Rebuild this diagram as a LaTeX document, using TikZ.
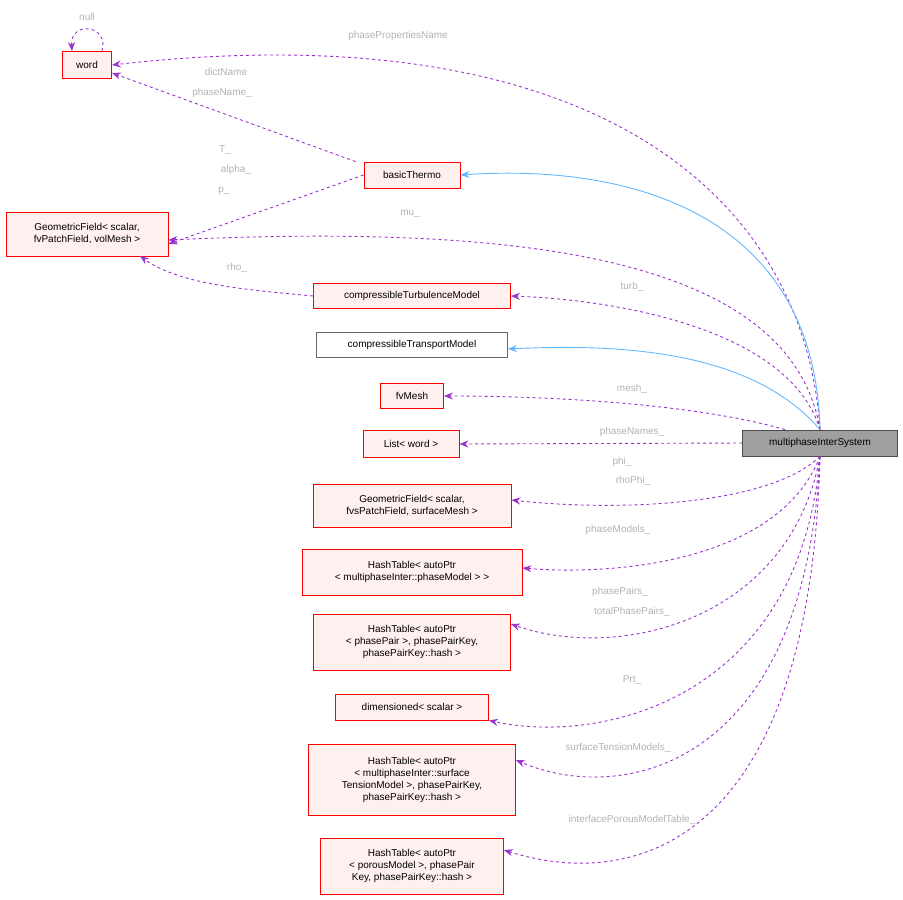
\documentclass[tikz,border=0pt]{standalone}
\usepackage{fontspec}
\setmainfont{Liberation Sans}
\usetikzlibrary{arrows.meta}
\definecolor{pur}{HTML}{9A32CD}
\definecolor{blu}{HTML}{63B8FF}
\begin{document}
\begin{tikzpicture}[x=1pt,y=-1pt,
 box/.style={draw=red,fill=red!6,align=center,font=\fontsize{10}{12}\selectfont,inner sep=2pt,line width=0.8pt},
 pp/.style={draw=pur,dashed,line width=0.9pt,-{Stealth[length=9pt,width=7pt]}},
 bl/.style={draw=blu,line width=0.9pt,-{Stealth[length=9pt,width=7pt]}},
 lb/.style={text=gray!60,font=\fontsize{10}{12}\selectfont}]
\useasboundingbox (0,0) rectangle (903,900);
\node[box,minimum width=49pt,minimum height=27pt] (word) at (87,65) {word};
\node[box,minimum width=96pt,minimum height=26pt] (bt) at (412,175) {basicThermo};
\node[box,minimum width=162pt,minimum height=44pt] (gv) at (87,234) {GeometricField< scalar,\\ fvPatchField, volMesh >};
\node[box,minimum width=197pt,minimum height=25pt] (ctm) at (412,296) {compressibleTurbulenceModel};
\node[box,draw=gray!80!black,fill=white,minimum width=191pt,minimum height=25pt] (ctr) at (412,345) {compressibleTransportModel};
\node[box,minimum width=63pt,minimum height=25pt] (fv) at (412,396) {fvMesh};
\node[box,minimum width=96pt,minimum height=27pt] (lw) at (411,444) {List< word >};
\node[box,minimum width=198pt,minimum height=43pt] (gs) at (412,506) {GeometricField< scalar,\\ fvsPatchField, surfaceMesh >};
\node[box,minimum width=220pt,minimum height=46pt] (h1) at (412,572) {HashTable< autoPtr\\ < multiphaseInter::phaseModel > >};
\node[box,minimum width=197pt,minimum height=56pt] (h2) at (412,642) {HashTable< autoPtr\\ < phasePair >, phasePairKey,\\ phasePairKey::hash >};
\node[box,minimum width=153pt,minimum height=26pt] (dim) at (412,707) {dimensioned< scalar >};
\node[box,minimum width=207pt,minimum height=71pt] (h3) at (412,780) {HashTable< autoPtr\\ < multiphaseInter::surface\\ TensionModel >, phasePairKey,\\ phasePairKey::hash >};
\node[box,minimum width=183pt,minimum height=56pt] (h4) at (412,866) {HashTable< autoPtr\\ < porousModel >, phasePair\\ Key, phasePairKey::hash >};
\node[box,draw=black!70,fill=gray!75,minimum width=155pt,minimum height=26pt] (m) at (820,443) {multiphaseInterSystem};
% edges
\draw[pp] (word.north east) ++(-10,0) .. controls (110,25) and (70,20) .. ([xshift=-15]word.north);
\node[lb] at (87,17) {null};
\draw[pp] (m.north) .. controls (805,200) and (600,10) .. (word.east);
\node[lb] at (398,36) {phasePropertiesName};
\draw[pp] ([xshift=-8]bt.north west) -- ([yshift=6]word.south east);
\node[lb] at (226,72) {dictName};
\node[lb] at (222,93) {phaseName\_};
\draw[pp] (bt.west) -- ([yshift=-10]gv.east);
\node[lb] at (225,150) {T\_};
\node[lb] at (236,170) {alpha\_};
\node[lb] at (224,191) {p\_};
\draw[bl] (m.north) .. controls (815,220) and (640,163) .. (bt.east);
\draw[pp] (m.north) .. controls (790,250) and (500,225) .. ([yshift=-6]gv.east);
\node[lb] at (410,214) {mu\_};
\draw[pp] (ctm.west) .. controls (250,290) and (180,285) .. (140,256);
\node[lb] at (237,268) {rho\_};
\draw[pp] (m.north) .. controls (790,330) and (620,300) .. (ctm.east);
\node[lb] at (632,287) {turb\_};
\draw[bl] (m.north) .. controls (760,360) and (650,342) .. ([yshift=-4]ctr.east);
\draw[pp] ([xshift=-35]m.north) .. controls (700,405) and (560,396) .. (fv.east);
\node[lb] at (632,389) {mesh\_};
\draw[pp] (m.west) -- (lw.east);
\node[lb] at (632,432) {phaseNames\_};
\draw[pp] (m.south) .. controls (770,505) and (620,512) .. ([yshift=6]gs.east);
\node[lb] at (622,462) {phi\_};
\node[lb] at (633,481) {rhoPhi\_};
\draw[pp] (m.south) .. controls (780,560) and (620,576) .. ([yshift=4]h1.east);
\node[lb] at (618,530) {phaseModels\_};
\draw[pp] (m.south) .. controls (790,620) and (620,662) .. ([yshift=18]h2.east);
\node[lb] at (620,592) {phasePairs\_};
\node[lb] at (632,612) {totalPhasePairs\_};
\draw[pp] (m.south) .. controls (800,700) and (600,745) .. (dim.south east);
\node[lb] at (632,680) {Prt\_};
\draw[pp] (m.south) .. controls (805,770) and (620,805) .. ([yshift=20]h3.east);
\node[lb] at (618,748) {surfaceTensionModels\_};
\draw[pp] (m.south) .. controls (810,850) and (630,890) .. ([yshift=16]h4.east);
\node[lb] at (632,820) {interfacePorousModelTable\_};
\end{tikzpicture}
\end{document}
